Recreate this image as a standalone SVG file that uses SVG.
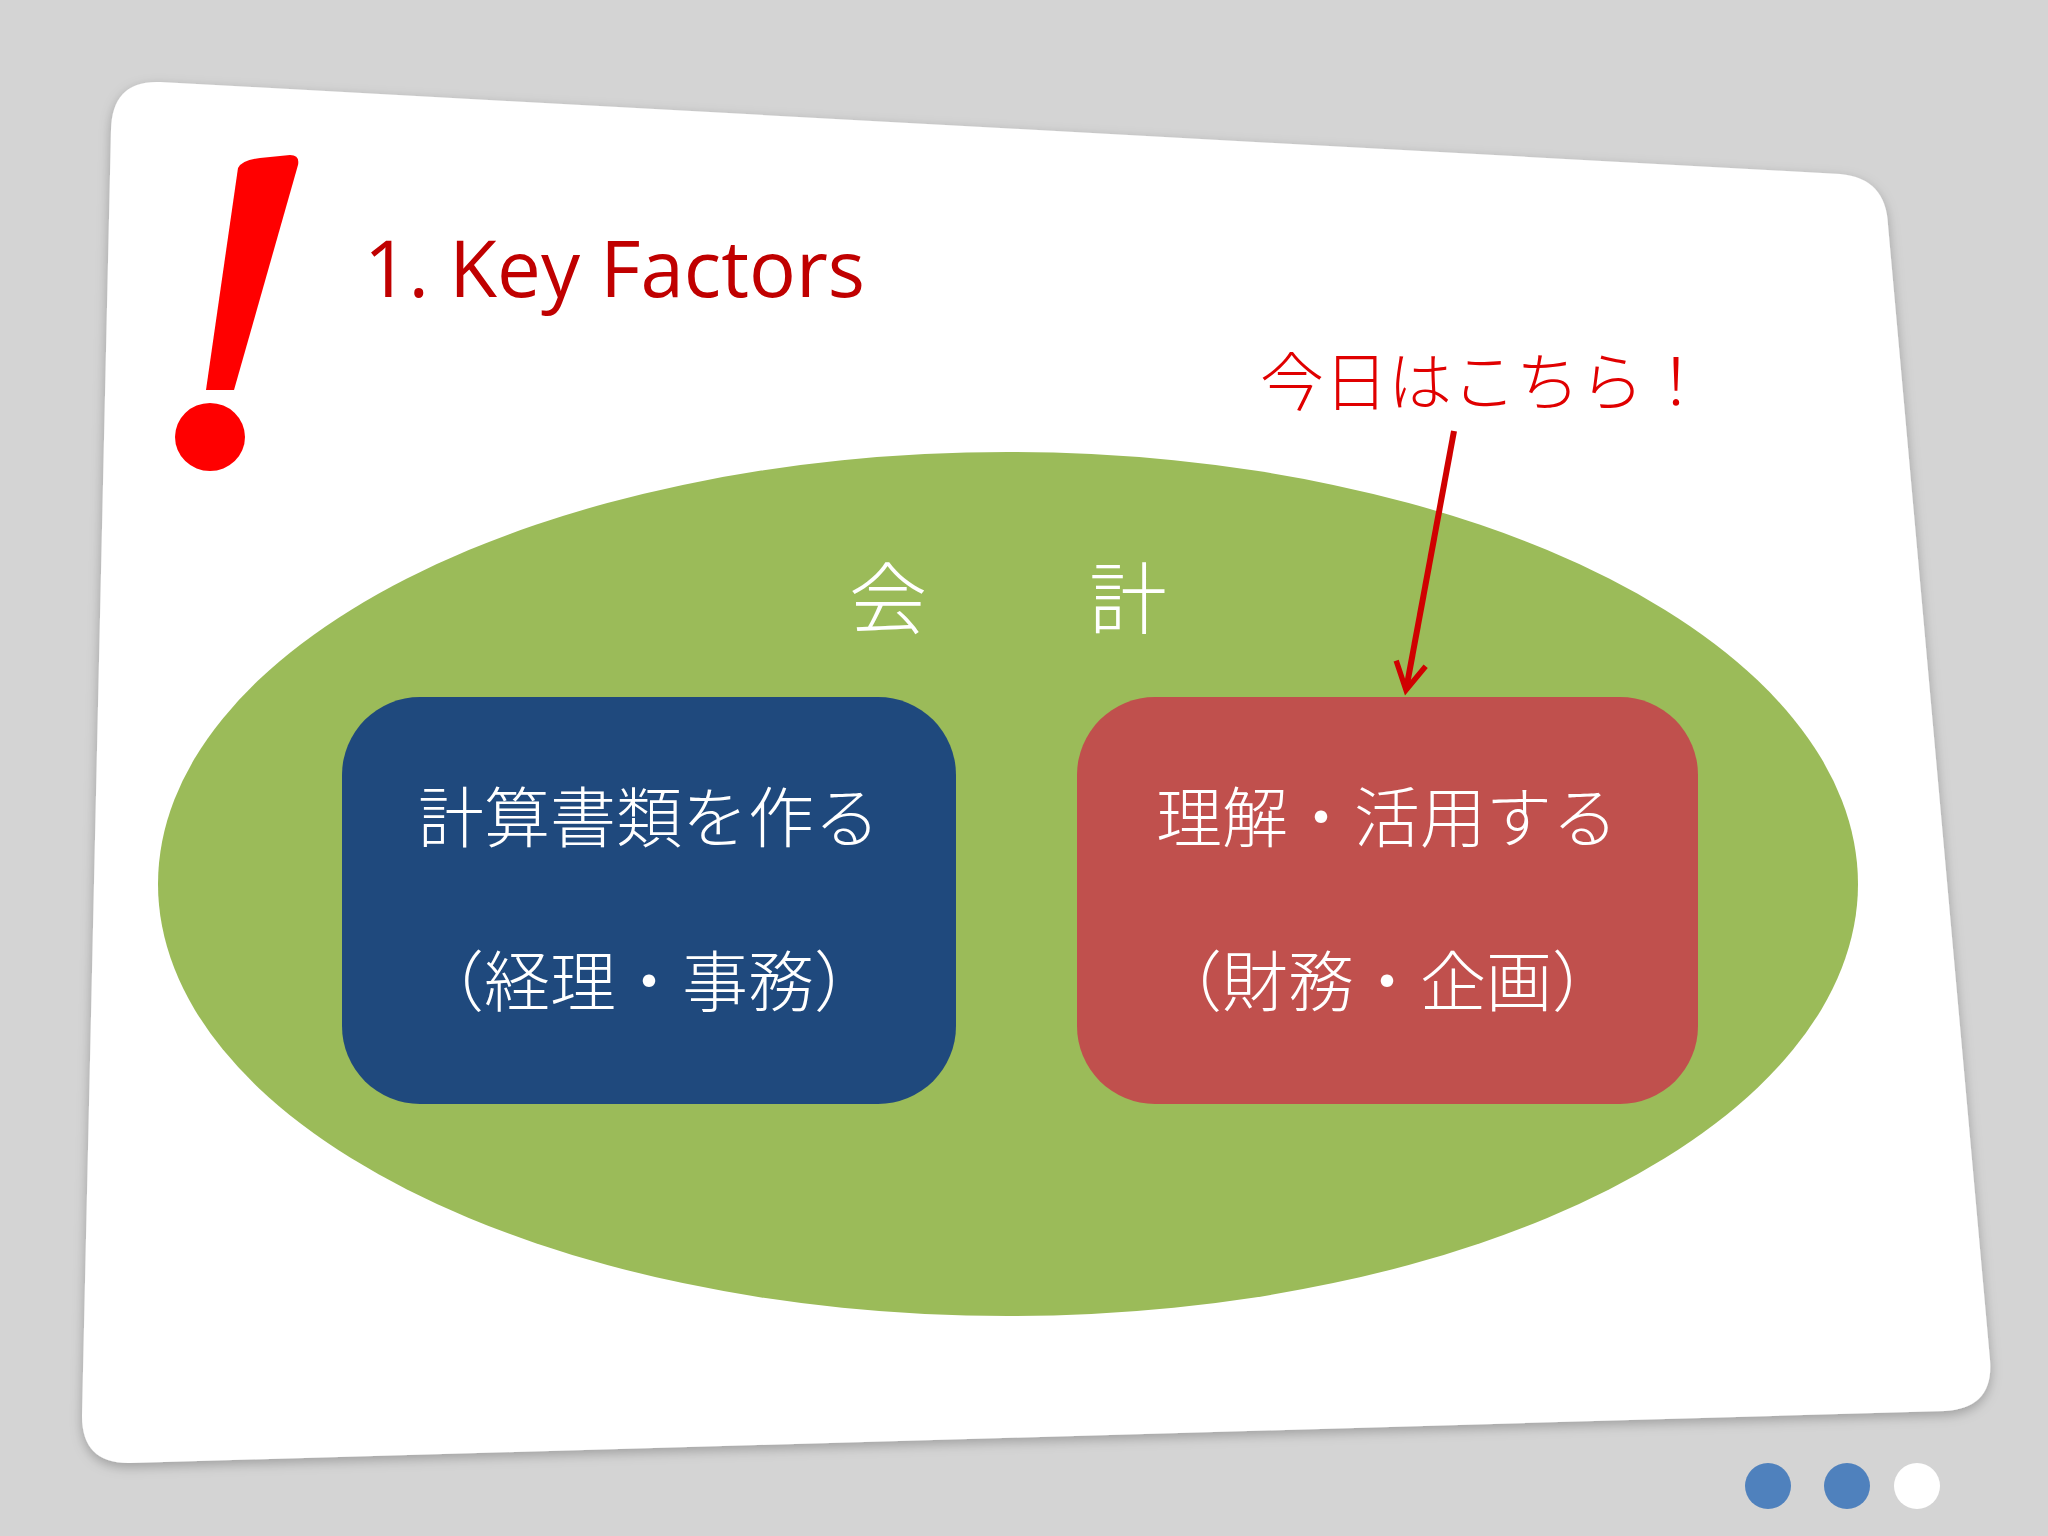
<svg xmlns="http://www.w3.org/2000/svg" width="2048" height="1536" viewBox="0 0 2048 1536">
<style>
.jp{font-family:"Noto Sans CJK JP",sans-serif;fill:#fff;text-anchor:middle;font-weight:300}
</style>
<defs>
<marker id="ah" viewBox="0 0 12 12" refX="10" refY="6" markerWidth="6" markerHeight="6" orient="auto" markerUnits="strokeWidth"><path d="M1,1 L10,6 L1,11" fill="none" stroke="#d00000" stroke-width="1.8"/></marker>
<filter id="sh" x="-5%" y="-5%" width="110%" height="110%"><feDropShadow dx="0" dy="4" stdDeviation="6" flood-opacity="0.25"/></filter>
</defs>
<rect width="2048" height="1536" fill="#d4d4d4"/>
<path d="M160,82 L1840,174 Q1886,178 1888,225 L1990,1360 Q1994,1408 1945,1411 L130,1463 Q82,1464 82,1416 L111,130 Q112,80 160,82 Z" fill="#fff" filter="url(#sh)"/>
<g id="exclaim">
<path d="M238,168 Q242,160 260,158 L290,155 Q300,155 298,165 L234,390 L206,390 Z" fill="#ff0000"/>
<ellipse cx="210" cy="437" rx="35" ry="34" fill="#ff0000"/>
</g>
<text x="364" y="297" font-family="Open Sans,sans-serif" font-size="78" fill="#c00000">1. Key Factors</text>
<g id="kaikei">
<ellipse cx="1008" cy="884" rx="850" ry="432" fill="#9bbb59"/>
<text class="jp" x="888" y="628" font-size="78">会</text>
<text class="jp" x="1128" y="628" font-size="78">計</text>
</g>
<g id="blue">
<rect x="342" y="697" width="614" height="407" rx="78" fill="#1f497d"/>
<text class="jp" x="649" y="842" font-size="66">計算書類を作る</text>
<text class="jp" x="649" y="1006" font-size="66">（経理・事務）</text>
</g>
<g id="red">
<rect x="1077" y="697" width="621" height="407" rx="78" fill="#c0504d"/>
<text class="jp" x="1387" y="842" font-size="66">理解・活用する</text>
<text class="jp" x="1387" y="1006" font-size="66">（財務・企画）</text>
</g>
<text x="1260" y="405" font-family="Noto Sans CJK JP,sans-serif" font-weight="300" font-size="64" fill="#e00000">今日はこちら！</text>
<g id="connectors">
<line x1="1454" y1="431" x2="1406" y2="690" stroke="#d00000" stroke-width="6" marker-end="url(#ah)"/>
</g>
<circle cx="1768" cy="1486" r="23" fill="#4f81bd"/>
<circle cx="1847" cy="1486" r="23" fill="#4f81bd"/>
<circle cx="1917" cy="1486" r="23" fill="#fff"/>
</svg>
